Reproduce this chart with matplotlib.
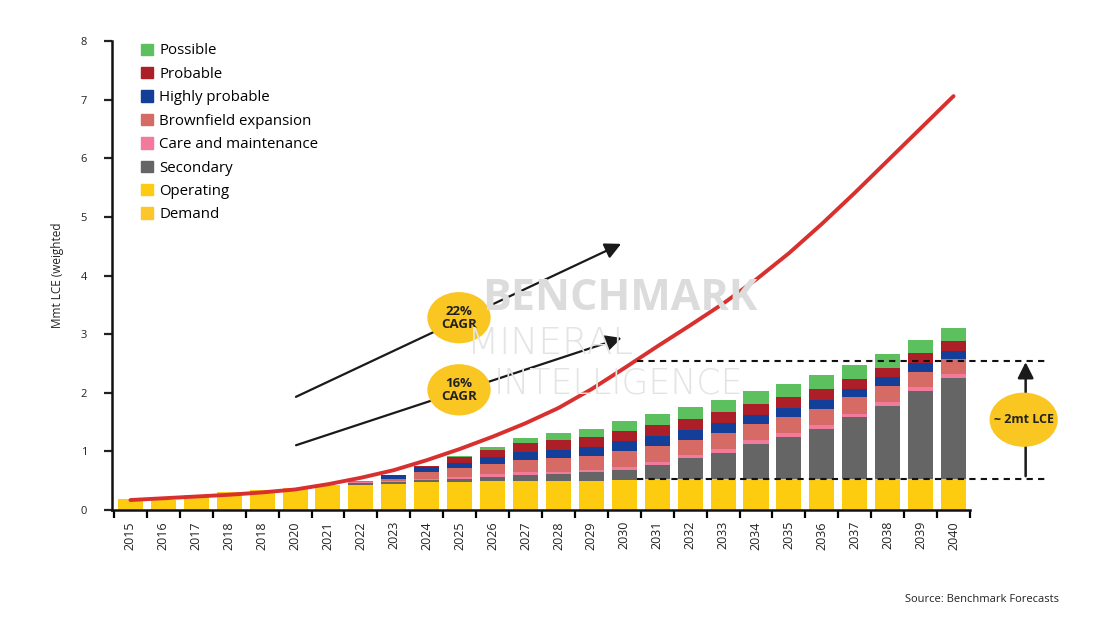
import numpy as np
import matplotlib
matplotlib.use("Agg")
import matplotlib.pyplot as plt
from matplotlib.patches import Patch, Ellipse

plt.rcParams['font.family'] = ['Open Sans', 'DejaVu Sans']

years = ['2015', '2016', '2017', '2018', '2018', '2020', '2021', '2022', '2023', '2024',
         '2025', '2026', '2027', '2028', '2029', '2030', '2031', '2032', '2033', '2034',
         '2035', '2036', '2037', '2038', '2039', '2040']

operating = [0.19, 0.17, 0.26, 0.31, 0.34, 0.37, 0.43, 0.42, 0.44, 0.47,
             0.48, 0.49, 0.49, 0.49, 0.50, 0.51, 0.53, 0.53, 0.53, 0.53,
             0.53, 0.53, 0.53, 0.53, 0.53, 0.53]
secondary = [0, 0, 0, 0, 0, 0, 0, 0.04, 0.04, 0.04,
             0.05, 0.08, 0.11, 0.12, 0.14, 0.17, 0.24, 0.35, 0.45, 0.60,
             0.72, 0.86, 1.05, 1.24, 1.50, 1.73]
care = [0, 0, 0, 0, 0, 0, 0, 0.01, 0.01, 0.02,
        0.03, 0.04, 0.04, 0.04, 0.04, 0.05, 0.05, 0.05, 0.06, 0.06,
        0.06, 0.06, 0.06, 0.07, 0.07, 0.06]
brownfield = [0, 0, 0, 0, 0, 0, 0, 0.02, 0.04, 0.11,
              0.16, 0.17, 0.21, 0.24, 0.24, 0.27, 0.27, 0.26, 0.28, 0.27,
              0.28, 0.28, 0.28, 0.28, 0.26, 0.25]
highly_probable = [0, 0, 0, 0, 0, 0, 0, 0, 0.07, 0.10,
                   0.09, 0.13, 0.14, 0.14, 0.16, 0.17, 0.17, 0.18, 0.17, 0.16,
                   0.15, 0.15, 0.14, 0.15, 0.15, 0.15]
probable = [0, 0, 0, 0, 0, 0, 0, 0, 0, 0.01,
            0.09, 0.11, 0.16, 0.17, 0.17, 0.18, 0.19, 0.18, 0.19, 0.18,
            0.18, 0.18, 0.17, 0.16, 0.16, 0.16]
possible = [0, 0, 0, 0, 0, 0, 0, 0, 0, 0,
            0.02, 0.05, 0.08, 0.11, 0.13, 0.16, 0.19, 0.20, 0.20, 0.23,
            0.23, 0.24, 0.24, 0.23, 0.23, 0.22]
demand = [0.17, 0.20, 0.23, 0.26, 0.30, 0.35, 0.44, 0.55, 0.68, 0.85,
          1.04, 1.25, 1.48, 1.74, 2.06, 2.42, 2.79, 3.15, 3.52, 3.93,
          4.38, 4.88, 5.41, 5.96, 6.51, 7.06]

layers = [
    ('Operating', operating, '#fdcb10'),
    ('Secondary', secondary, '#656565'),
    ('Care and maintenance', care, '#f27a9c'),
    ('Brownfield expansion', brownfield, '#d66a64'),
    ('Highly probable', highly_probable, '#143f98'),
    ('Probable', probable, '#ad1f28'),
    ('Possible', possible, '#5cc05e'),
]

fig = plt.figure(figsize=(10.97, 6.33), dpi=100)
ax = fig.add_axes([112 / 1097, 123 / 633, 858 / 1097, 469 / 633])

x = np.arange(len(years))
bottom = np.zeros(len(years))
for name, vals, col in layers:
    ax.bar(x, vals, width=0.76, bottom=bottom, color=col, zorder=2)
    bottom += np.array(vals)

ax.plot(x, demand, color='#d8302e', lw=2.8, solid_capstyle='round', solid_joinstyle='round', zorder=4)

ax.set_xlim(-0.56, 25.44)
ax.set_ylim(0, 8)
ax.set_yticks(range(0, 9))
ax.tick_params(axis='y', length=6, width=1.6, direction='out', labelsize=8, pad=12, colors='#222222')
ax.set_xticks(x)
ax.set_xticklabels(years, rotation=90, fontsize=9, color='#222222')
ax.tick_params(axis='x', length=0, pad=8)
ax.set_xticks(np.arange(-0.5, len(years)), minor=True)
ax.tick_params(axis='x', which='minor', length=6, width=1.6, direction='out')
for s in ['top', 'right']:
    ax.spines[s].set_visible(False)
for s in ['left', 'bottom']:
    ax.spines[s].set_linewidth(1.8)
    ax.spines[s].set_color('#111111')
ax.set_ylabel('Mmt LCE (weighted', fontsize=8.5, color='#222222', labelpad=12)

# legend
handles = [Patch(color=c, label=n) for n, _, c in layers[::-1]]
handles.append(Patch(color='#fdc72c', label='Demand'))
ax.legend(handles=handles, loc='upper left', bbox_to_anchor=(127 / 1097, 1 - 30 / 633),
          bbox_transform=fig.transFigure, frameon=False, fontsize=10.8,
          handlelength=0.8, handleheight=0.8, handletextpad=0.45, labelspacing=0.56)

# watermark
fig.text(482 / 1097, 1 - 298 / 633, 'BENCHMARK', fontsize=31, fontweight='bold', color='#dcdcdc',
         ha='left', va='center', zorder=0)
fig.text(467 / 1097, 1 - 344 / 633, 'MINERAL', family='DejaVu Sans', fontsize=27,
         fontweight='light', color='#e4e4e4', ha='left', va='center', zorder=0)
fig.text(494 / 1097, 1 - 383 / 633, 'INTELLIGENCE', family='DejaVu Sans', fontsize=25,
         fontweight='light', color='#e4e4e4', ha='left', va='center', zorder=0)

# CAGR arrows
ax.annotate('', xy=(14.98, 4.56), xytext=(4.95, 1.91),
            arrowprops=dict(arrowstyle='-|>', color='#1a1a1a', lw=1.6, mutation_scale=24), zorder=5)
ax.annotate('', xy=(15.0, 2.95), xytext=(4.95, 1.09),
            arrowprops=dict(arrowstyle='-|>', color='#1a1a1a', lw=1.6, mutation_scale=24), zorder=5)
for yc, txt in [(3.28, '22%\nCAGR'), (2.05, '16%\nCAGR')]:
    ax.add_patch(Ellipse((9.98, yc), 1.88, 0.85, color='#f9c622', zorder=6))
    ax.text(9.98, yc, txt, ha='center', va='center', fontsize=9.5, fontweight='bold',
            color='#222222', linespacing=1.0, zorder=7)

# ~2mt LCE gap
for yl in [0.53, 2.55]:
    ax.plot([15.4, 27.9], [yl, yl], ls=(0, (3, 2.5)), color='#111111', lw=1.5, clip_on=False, zorder=5)
ax.annotate('', xy=(27.19, 2.57), xytext=(27.19, 0.53),
            arrowprops=dict(arrowstyle='-|>', color='#1a1a1a', lw=1.8, mutation_scale=24),
            annotation_clip=False, zorder=5)
ax.add_patch(Ellipse((27.13, 1.54), 2.03, 0.9, color='#f9c622', clip_on=False, zorder=6))
ax.text(27.13, 1.54, '~ 2mt LCE', ha='center', va='center', fontsize=9, fontweight='bold',
        color='#222222', clip_on=False, zorder=7)

fig.text(1059 / 1097, 1 - 600 / 633, 'Source: Benchmark Forecasts', fontsize=8, color='#222222',
         ha='right', va='center')

fig.savefig('out.png', dpi=100)
